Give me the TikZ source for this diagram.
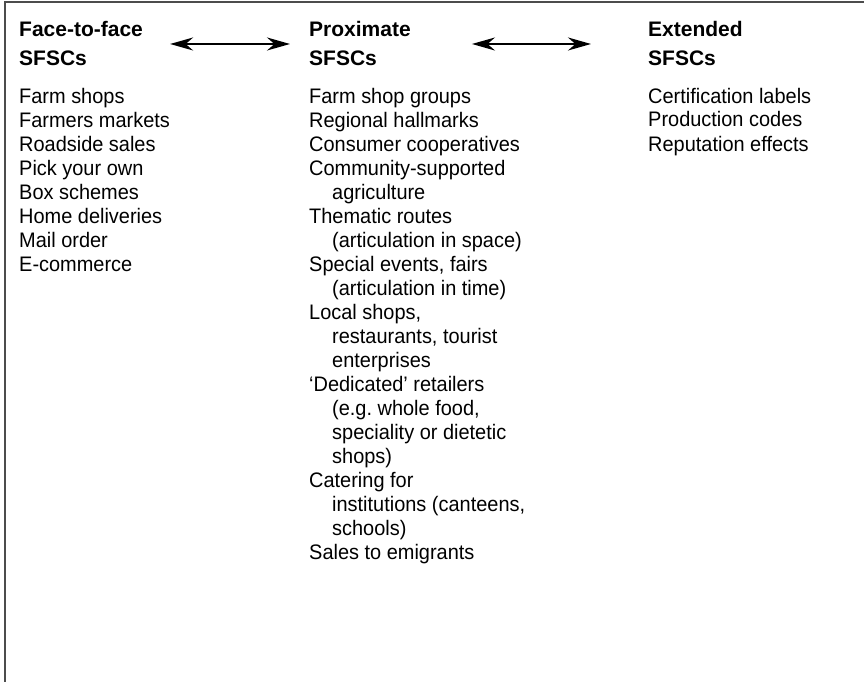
\documentclass[tikz,border=0pt]{standalone}
\usepackage{fontspec}
\setmainfont{Liberation Sans}
\newfontfamily\listfont{Liberation Sans}[FakeStretch=0.95]
\usetikzlibrary{positioning,arrows.meta}
\tikzstyle{heading}=[
	anchor=base west,
	align=left,
	inner sep=0pt,
	text=black,
	font=\fontsize{21}{29}\selectfont\bfseries]
\tikzstyle{items}=[
	anchor=base west,
	align=left,
	inner sep=0pt,
	text=black,
	font=\listfont\fontsize{21}{24}\selectfont]
\tikzstyle{link}=[
	{Stealth[length=23pt,width=13pt]}-{Stealth[length=23pt,width=13pt]},
	line width=2pt]
\newcommand{\wrapped}{\hspace*{23pt}}

\begin{document}
\begin{tikzpicture}[x=1pt,y=-1pt]

		% base anchor of a multi-line node = baseline of its last line
		\useasboundingbox (0,0) rectangle (864,682);
		\draw[black!70, line width=2pt] (5,682) -- (5,2) -- (864,2);

		\node (FaceToFace) [heading] at (19,66) {Face-to-face\\SFSCs};
		\node (Proximate) [heading] at (309,66) {Proximate\\SFSCs};
		\node (Extended) [heading] at (648,66) {Extended\\SFSCs};

		\node (FaceToFaceList) [items] at (19,271) {
			Farm shops\\
			Farmers markets\\
			Roadside sales\\
			Pick your own\\
			Box schemes\\
			Home deliveries\\
			Mail order\\
			E-commerce
		};

		\node (ProximateList) [items] at (309,559) {
			Farm shop groups\\
			Regional hallmarks\\
			Consumer cooperatives\\
			Community-supported\\
			\wrapped agriculture\\
			Thematic routes\\
			\wrapped (articulation in space)\\
			Special events, fairs\\
			\wrapped (articulation in time)\\
			Local shops,\\
			\wrapped restaurants, tourist\\
			\wrapped enterprises\\
			‘Dedicated’ retailers\\
			\wrapped (e.g.\ whole food,\\
			\wrapped speciality or dietetic\\
			\wrapped shops)\\
			Catering for\\
			\wrapped institutions (canteens,\\
			\wrapped schools)\\
			Sales to emigrants
		};

		\node (ExtendedList) [items] at (648,151) {
			Certification labels\\
			Production codes\\
			Reputation effects
		};

		\draw[link, shorten <=27pt, shorten >=19pt] (FaceToFace.east) -- (Proximate.west);
		\draw[link, shorten <=61pt, shorten >=57pt] (Proximate.east) -- (Extended.west);

	\end{tikzpicture}
\end{document}
